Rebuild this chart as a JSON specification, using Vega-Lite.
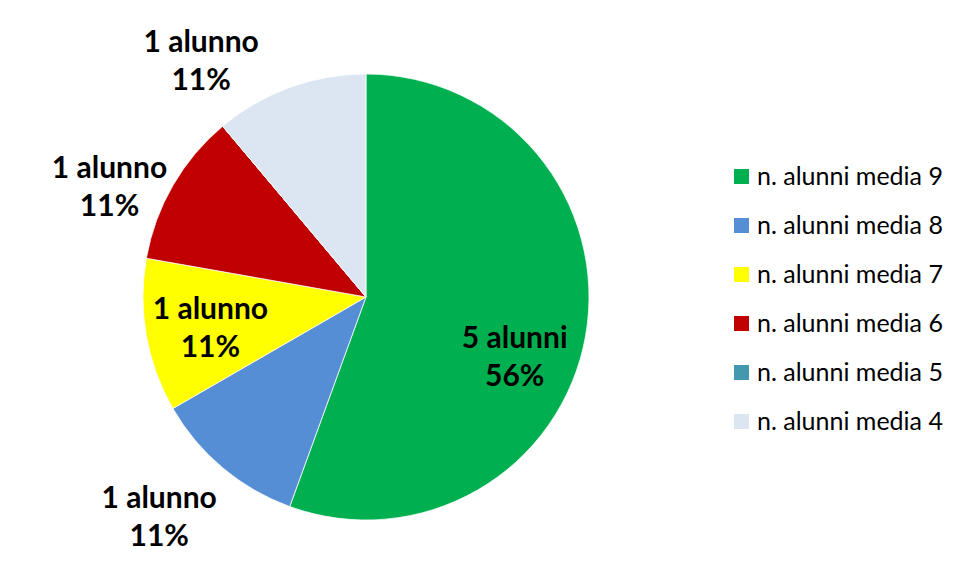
{
  "$schema": "https://vega.github.io/schema/vega-lite/v6.json",
  "width": 712,
  "height": 574,
  "autosize": "none",
  "padding": {"left": 10, "top": 10, "right": 234, "bottom": 0},
  "background": "white",
  "config": {"view": {"stroke": null}},
  "data": {
    "values": [
      {"gruppo": "n. alunni media 9", "n": 5, "ord": 1, "etichetta": "5 alunni\n56%"},
      {"gruppo": "n. alunni media 8", "n": 1, "ord": 2, "etichetta": "1 alunno\n11%"},
      {"gruppo": "n. alunni media 7", "n": 1, "ord": 3, "etichetta": "1 alunno\n11%"},
      {"gruppo": "n. alunni media 6", "n": 1, "ord": 4, "etichetta": "1 alunno\n11%"},
      {"gruppo": "n. alunni media 5", "n": 0, "ord": 5, "etichetta": ""},
      {"gruppo": "n. alunni media 4", "n": 1, "ord": 6, "etichetta": "1 alunno\n11%"}
    ]
  },
  "encoding": {
    "theta": {"field": "n", "type": "quantitative", "stack": true},
    "order": {"field": "ord", "type": "quantitative"}
  },
  "layer": [
    {
      "mark": {"type": "arc", "outerRadius": 223, "stroke": "white", "strokeWidth": 0.75},
      "encoding": {
        "color": {
          "field": "gruppo",
          "type": "nominal",
          "scale": {
            "domain": ["n. alunni media 9", "n. alunni media 8", "n. alunni media 7", "n. alunni media 6", "n. alunni media 5", "n. alunni media 4"],
            "range": ["#00B050", "#558ED5", "#FFFF00", "#C00000", "#4198AF", "#DCE6F2"]
          },
          "legend": {
            "orient": "none",
            "legendX": 719,
            "legendY": 154,
            "title": null,
            "symbolType": "square",
            "symbolSize": 225,
            "symbolStrokeWidth": 0,
            "symbolOpacity": 1,
            "labelFont": "Lato",
            "labelFontSize": 25,
            "labelColor": "black",
            "labelOffset": 3,
            "labelLimit": 300,
            "rowPadding": 23,
            "padding": 0
          }
        }
      }
    },
    {
      "mark": {"type": "text", "dy": 16, "font": "Lato", "fontWeight": "bold", "fontSize": 30, "lineBreak": "\n", "lineHeight": 38, "align": "center", "baseline": "middle", "fill": "black"},
      "encoding": {
        "radius": {"value": 151},
        "text": {"condition": {"test": "datum.ord === 1", "field": "etichetta"}, "value": ""}
      }
    },
    {
      "mark": {"type": "text", "dx": -14, "dy": -28, "font": "Lato", "fontWeight": "bold", "fontSize": 30, "lineBreak": "\n", "lineHeight": 38, "align": "center", "baseline": "middle", "fill": "black"},
      "encoding": {
        "radius": {"value": 300},
        "text": {"condition": {"test": "datum.ord === 2", "field": "etichetta"}, "value": ""}
      }
    },
    {
      "mark": {"type": "text", "dy": -14, "font": "Lato", "fontWeight": "bold", "fontSize": 30, "lineBreak": "\n", "lineHeight": 38, "align": "center", "baseline": "middle", "fill": "black"},
      "encoding": {
        "radius": {"value": 158},
        "text": {"condition": {"test": "datum.ord === 3", "field": "etichetta"}, "value": ""}
      }
    },
    {
      "mark": {"type": "text", "dx": -14, "dy": 12, "font": "Lato", "fontWeight": "bold", "fontSize": 30, "lineBreak": "\n", "lineHeight": 38, "align": "center", "baseline": "middle", "fill": "black"},
      "encoding": {
        "radius": {"value": 280},
        "text": {"condition": {"test": "datum.ord === 4", "field": "etichetta"}, "value": ""}
      }
    },
    {
      "mark": {"type": "text", "dx": -79, "dy": -18, "font": "Lato", "fontWeight": "bold", "fontSize": 30, "lineBreak": "\n", "lineHeight": 38, "align": "center", "baseline": "middle", "fill": "black"},
      "encoding": {
        "radius": {"value": 251},
        "text": {"condition": {"test": "datum.ord === 6", "field": "etichetta"}, "value": ""}
      }
    }
  ]
}
